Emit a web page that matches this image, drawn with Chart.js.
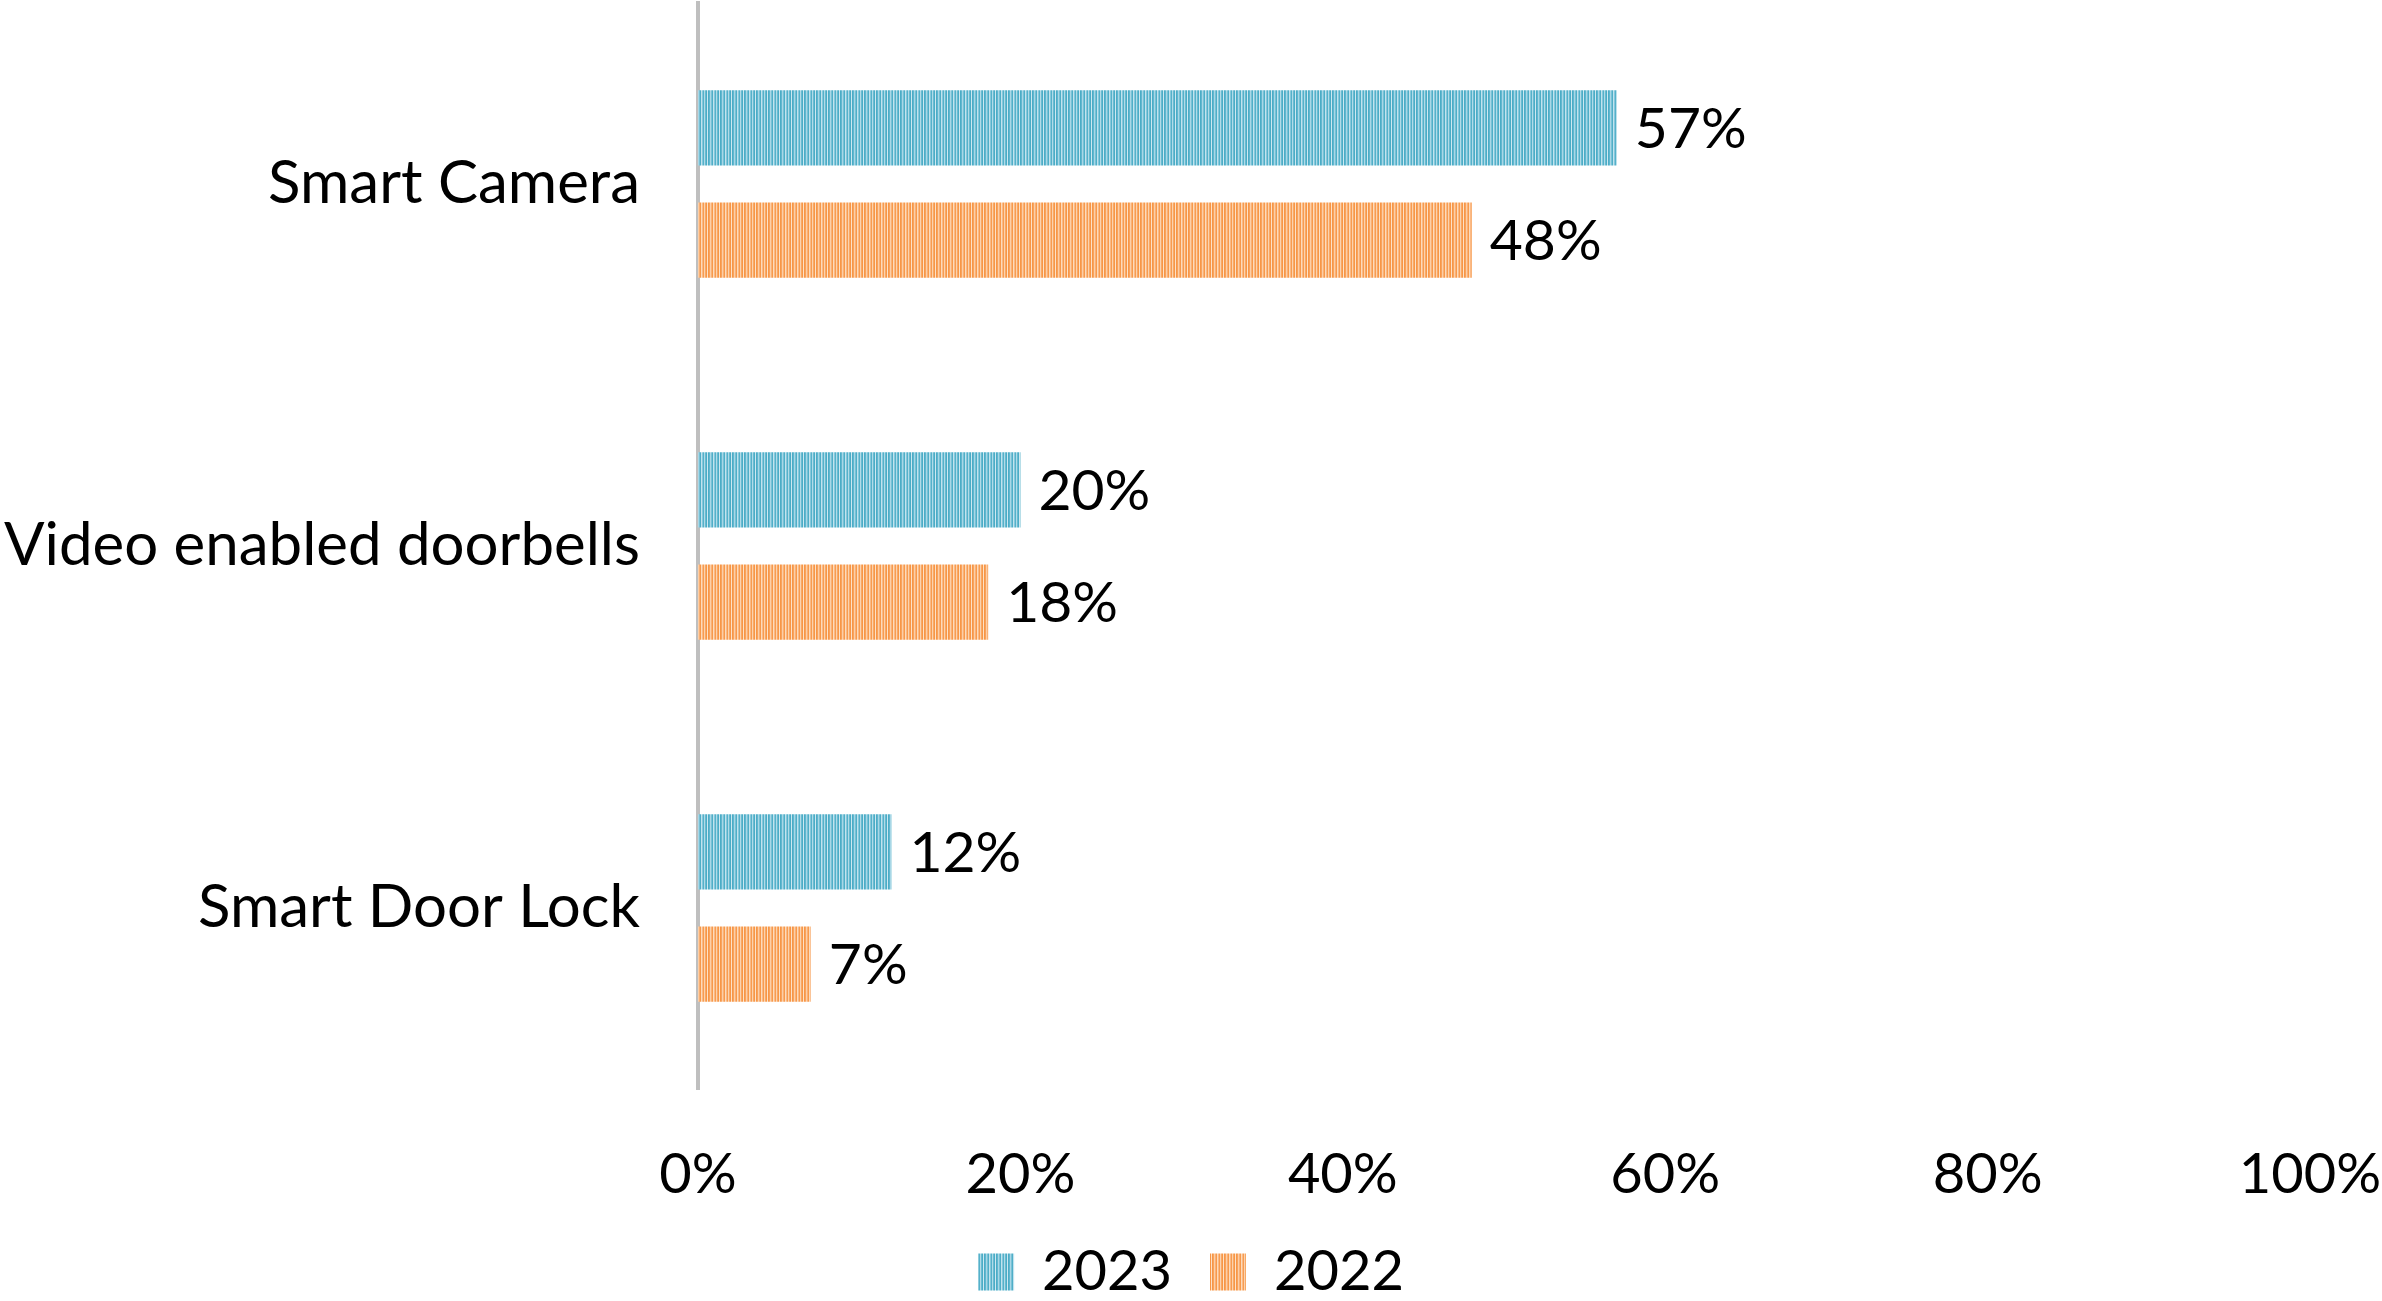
<!DOCTYPE html>
<html>
<head>
<meta charset="utf-8">
<script src="https://cdn.jsdelivr.net/npm/chart.js@4.4.1/dist/chart.umd.min.js"></script>
<style>
  html, body { margin: 0; padding: 0; background: #fff; }
  #wrap { width: 2382px; height: 1301px; }
</style>
</head>
<body>
<div id="wrap"><canvas id="myChart" width="2382" height="1301"></canvas></div>
<script>
/* global Chart */
const categories = ['Smart Camera', 'Video enabled doorbells', 'Smart Door Lock'];
const values2023 = [57, 20, 12];
const values2022 = [48, 18, 7];
const xTicks = [0, 20, 40, 60, 80, 100];

const FONT = 'Lato';

// vertical striped fill, like the office "light vertical" pattern
function stripes(cols) {
    const c = document.createElement('canvas');
    c.width = cols.length;
    c.height = 8;
    const g = c.getContext('2d');
    cols.forEach(function(col, i) {
        g.fillStyle = col;
        g.fillRect(i, 0, 1, 8);
    });
    return g.createPattern(c, 'repeat');
}
const ctx = document.getElementById('myChart').getContext('2d');
const bluePattern = stripes(['#4BACC6', '#62B7CF', '#A8D7E6', '#78C1D6', '#4FAEC7', '#C2E3EE',
    '#86C8DB', '#55B1CA', '#B0DBE8', '#6ABBD1', '#4BACC6', '#CDE8F1']);
const orangePattern = stripes(['#F79646', '#F8A35E', '#FCCFA7', '#F9B176', '#F7994B', '#FDDBBB',
    '#FAB985', '#F79C50', '#FCD2AD', '#F8A966', '#F79646', '#FDE1C6']);

// value labels at the end of each bar
const barLabels = {
    id: 'barLabels',
    afterDatasetsDraw(chart) {
        const c = chart.ctx;
        c.save();
        c.font = '57px ' + FONT;
        c.fillStyle = '#000';
        c.textAlign = 'left';
        c.textBaseline = 'middle';
        chart.data.datasets.forEach(function(ds, i) {
            chart.getDatasetMeta(i).data.forEach(function(bar, j) {
                c.fillText(ds.data[j] + '%', bar.x + 18, bar.y + 2);
            });
        });
        c.restore();
    }
};

const chart = new Chart(ctx, {
    type: 'bar',
    data: {
        labels: categories,
        datasets: [{
                label: '2023',
                data: values2023,
                backgroundColor: bluePattern,
                borderWidth: 0,
            },
            {
                label: '2022',
                data: values2022,
                backgroundColor: orangePattern,
                borderWidth: 0,
            }
        ]
    },
    options: {
        indexAxis: 'y',
        responsive: false,
        animation: false,
        layout: { padding: { top: 3, right: 0, left: 0, bottom: 0 } },
        datasets: {
            bar: { categoryPercentage: 0.62, barPercentage: 0.67 }
        },
        scales: {
            x: {
                min: 0,
                max: 100,
                afterBuildTicks(scale) {
                    scale.ticks = xTicks.map(function(v) { return { value: v }; });
                },
                ticks: {
                    color: '#000',
                    font: { family: FONT, size: 56 },
                    padding: 44,
                    maxRotation: 0,
                    callback: function(v) { return v + '%'; }
                },
                grid: { display: false },
                border: { display: false },
                afterFit(scale) {
                    scale.height = 117;
                    scale.paddingLeft = 0;
                    scale.paddingRight = 72;
                }
            },
            y: {
                ticks: {
                    color: '#000',
                    font: { family: FONT, size: 60 },
                    padding: 50
                },
                grid: { display: false },
                border: { display: true, color: '#BFBFBF', width: 4 },
                afterFit(scale) {
                    scale.width = 698;
                    scale.paddingTop = 0;
                    scale.paddingBottom = 0;
                }
            }
        },
        plugins: {
            tooltip: { enabled: false },
            legend: {
                position: 'bottom',
                maxHeight: 95,
                labels: {
                    color: '#000',
                    font: { family: FONT, size: 56 },
                    boxWidth: 36,
                    boxHeight: 37,
                    padding: 38
                }
            }
        }
    },
    plugins: [barLabels]
});
</script>
</body>
</html>
